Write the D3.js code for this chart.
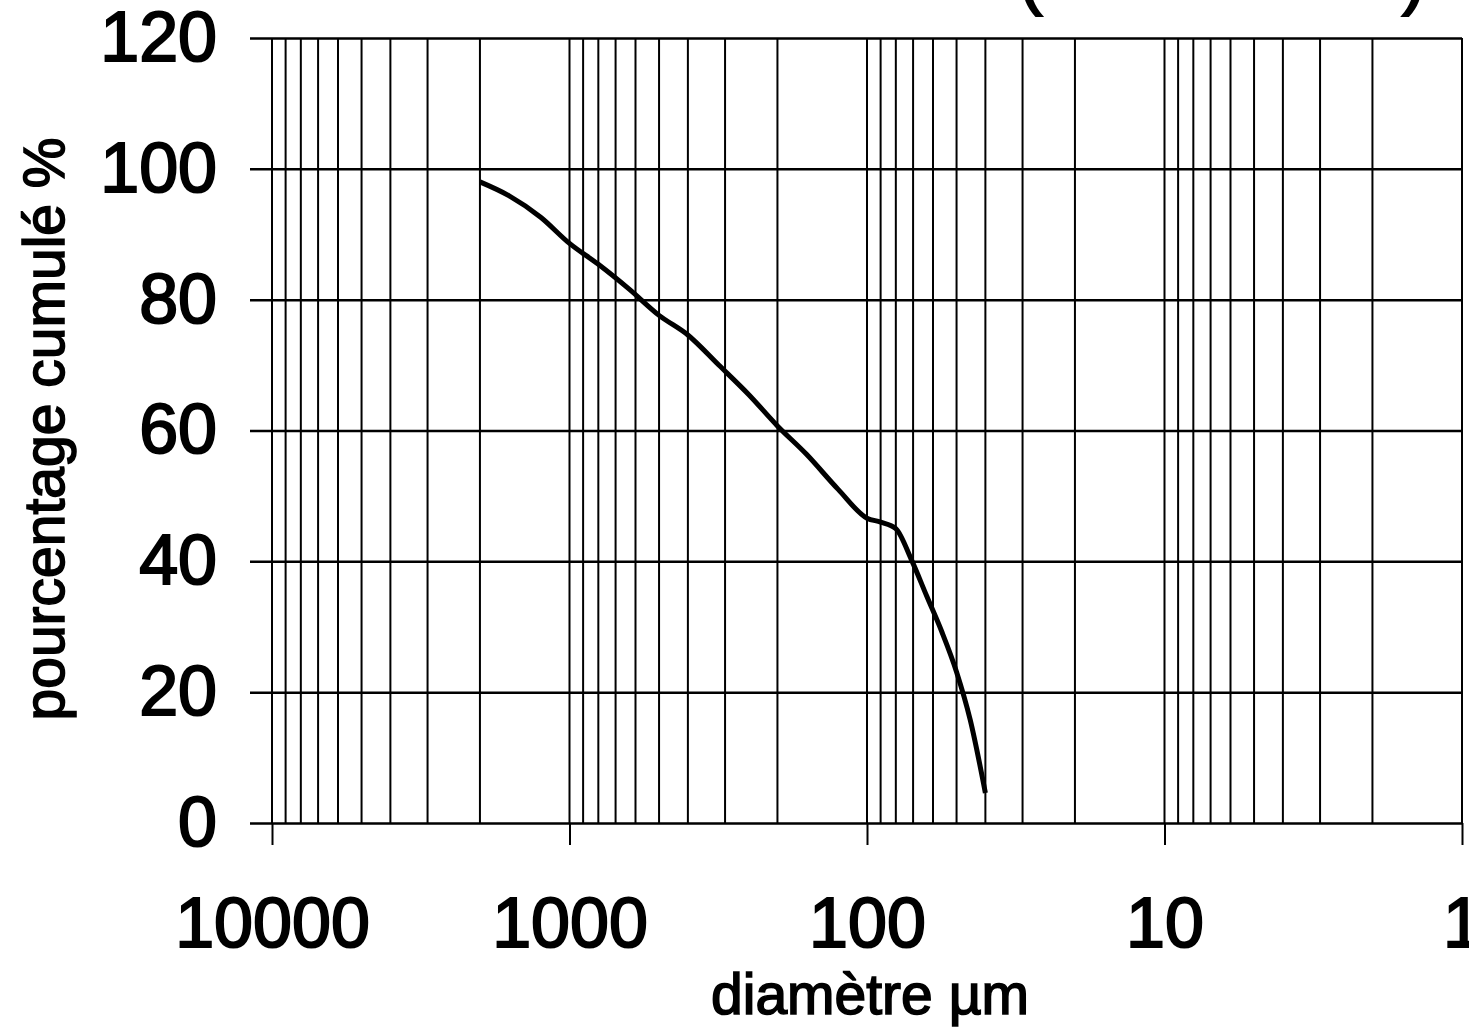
<!DOCTYPE html>
<html>
<head>
<meta charset="utf-8">
<script src="https://cdn.jsdelivr.net/npm/d3@7.9.0/dist/d3.min.js"></script>
<style>
  body { margin: 0; background: #fff; }
  svg { display: block; }
  text { font-family: "Liberation Sans", Arial, sans-serif; fill: #000; stroke: #000; }
</style>
</head>
<body>
<div id="chart"></div>
<script>
// diameter (µm) and cumulative percentage
const diameters = [2000, 1600, 1250, 1000, 800, 630, 500, 400, 315, 250, 200, 160, 125, 100, 90, 80, 71, 63, 56, 50, 45, 40];
const cumulative = [98.0, 95.9, 92.6, 88.6, 85.4, 81.6, 77.6, 74.6, 70.0, 65.5, 60.7, 56.4, 51.0, 46.6, 46.0, 45.0, 40.3, 34.7, 29.2, 23.1, 15.8, 4.6];

const xTickValues = [10000, 1000, 100, 10, 1];
const yTickValues = [0, 20, 40, 60, 80, 100, 120];

const xTitle = "diamètre µm";
const yTitle = "pourcentage cumulé %";

const width = 1469;
const height = 1031;

const plot = { left: 272, right: 1462, top: 38, bottom: 823, gridStart: 250 };

const svg = d3.select("#chart")
  .append("svg")
  .attr("width", width)
  .attr("height", height)
  .attr("viewBox", `0 0 ${width} ${height}`);

svg.append("rect").attr("width", width).attr("height", height).attr("fill", "#fff");

const x = d3.scaleLog().domain([10000, 1]).range([plot.left, plot.right]);
const y = d3.scaleLinear().domain([0, 120]).range([plot.bottom, plot.top]);

// cut-off title remnants at the very top
svg.append("text")
  .attr("x", 1019).attr("y", 1)
  .attr("font-size", 70).attr("stroke-width", 2)
  .text("(");
svg.append("text")
  .attr("x", 1402).attr("y", 1)
  .attr("font-size", 70).attr("stroke-width", 2)
  .text(")");

// vertical log gridlines (1..9 per decade)
svg.append("g")
  .attr("class", "vgrid")
  .selectAll("line")
  .data(x.ticks())
  .join("line")
  .attr("x1", d => x(d)).attr("x2", d => x(d))
  .attr("y1", y(120)).attr("y2", y(0))
  .attr("stroke", "#000")
  .attr("stroke-width", 2);

// horizontal gridlines + y labels
const yAxis = svg.append("g")
  .attr("transform", `translate(${plot.right},0)`)
  .call(d3.axisLeft(y)
    .tickValues(yTickValues)
    .tickSize(plot.right - plot.gridStart)
    .tickPadding(33));
yAxis.select(".domain").remove();
yAxis.selectAll(".tick line").attr("stroke", "#000").attr("stroke-width", 2.5);
yAxis.selectAll(".tick text")
  .attr("font-size", 70)
  .attr("font-family", "Liberation Sans, Arial, sans-serif")
  .attr("stroke-width", 2);

// x axis ticks + labels
const xAxis = svg.append("g")
  .attr("transform", `translate(0,${plot.bottom})`)
  .call(d3.axisBottom(x)
    .tickValues(xTickValues)
    .tickFormat(d3.format("d"))
    .tickSize(22)
    .tickPadding(52));
xAxis.select(".domain").remove();
xAxis.selectAll(".tick line").attr("stroke", "#000").attr("stroke-width", 2);
xAxis.selectAll(".tick text")
  .attr("font-size", 70)
  .attr("font-family", "Liberation Sans, Arial, sans-serif")
  .attr("stroke-width", 2);

// axis titles
svg.append("text")
  .attr("x", 870).attr("y", 1014)
  .attr("text-anchor", "middle")
  .attr("font-size", 57)
  .attr("stroke-width", 1.6)
  .text(xTitle);

svg.append("text")
  .attr("transform", "translate(64,429) rotate(-90)")
  .attr("text-anchor", "middle")
  .attr("font-size", 57)
  .attr("stroke-width", 1.6)
  .text(yTitle);

// curve
const points = diameters.map((d, i) => [d, cumulative[i]]);
const line = d3.line()
  .x(d => x(d[0]))
  .y(d => y(d[1]))
  .curve(d3.curveMonotoneX);

svg.append("path")
  .datum(points)
  .attr("fill", "none")
  .attr("stroke", "#000")
  .attr("stroke-width", 5)
  .attr("stroke-linejoin", "round")
  .attr("d", line);
</script>
</body>
</html>
